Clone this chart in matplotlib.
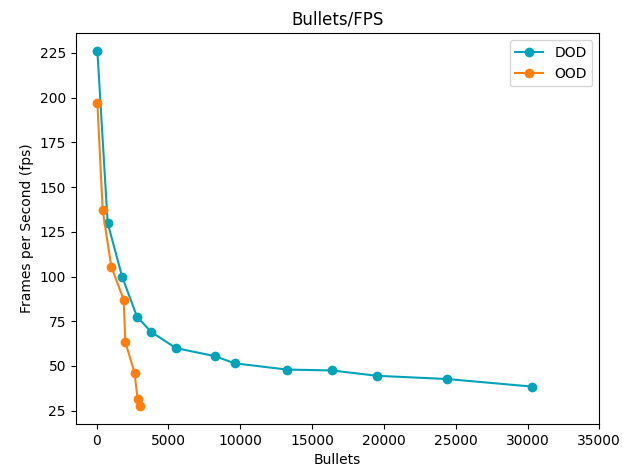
import matplotlib
matplotlib.use("Agg")
import matplotlib.pyplot as plt

# Bullet counts and measured frame rates
dod_bullets = [50, 765, 1770, 2810, 3800, 5520, 8230, 9600, 13240, 16370, 19540, 24410, 30300]
dod_fps = [226, 130, 100, 77.5, 69, 60, 55.5, 51.5, 48, 47.5, 44.5, 42.7, 38.5]

ood_bullets = [50, 420, 1020, 1880, 1995, 2640, 2850, 2990]
ood_fps = [197, 137, 105.5, 87, 63.5, 46, 31.5, 27.5]

xticks = list(range(0, 35001, 5000))

fig = plt.figure(figsize=(6.29, 4.70), dpi=100)
ax = fig.add_axes([0.1203, 0.0979, 0.8325, 0.8312])

ax.plot(dod_bullets, dod_fps, marker="o", color="#00a3b7", label="DOD")
ax.plot(ood_bullets, ood_fps, marker="o", color="#ff7f0e", label="OOD")

ax.set_xticks(xticks)
ax.set_title("Bullets/FPS")
ax.set_xlabel("Bullets")
ax.set_ylabel("Frames per Second (fps)")
ax.legend(loc="upper right")

fig.savefig("out.png", dpi=100)
